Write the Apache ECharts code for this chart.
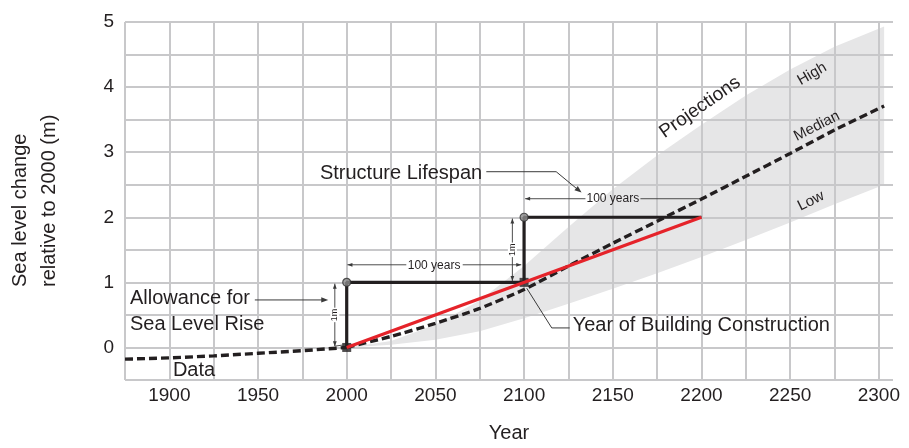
<!DOCTYPE html>
<html>
<head>
<meta charset="utf-8">
<script src="https://cdn.jsdelivr.net/npm/echarts@6/dist/echarts.min.js"></script>
<style>
  html, body { margin: 0; padding: 0; background: #fff; }
  #chart { width: 909px; height: 448px; }
</style>
</head>
<body>
<div id="chart"></div>
<script>
// Observed sea level, relative to 2000 (m)
const histYears = [1875, 1900, 1925, 1950, 1975, 2000];
const histLevel = [-0.18, -0.16, -0.13, -0.09, -0.05, 0];

// Projection envelope and median (m)
const projYears  = [2000, 2025, 2050, 2075, 2100, 2125, 2150, 2175, 2200, 2225, 2250, 2275, 2303];
const projMedian = [0, 0.17, 0.37, 0.6, 0.89, 1.25, 1.6, 1.94, 2.28, 2.63, 2.98, 3.34, 3.71];
const projLow    = [0, 0.04, 0.12, 0.25, 0.45, 0.67, 0.9, 1.14, 1.39, 1.65, 1.92, 2.2, 2.5];
const projHigh   = [0, 0.1, 0.35, 0.72, 1.25, 1.85, 2.43, 2.95, 3.42, 3.87, 4.27, 4.62, 4.93];

// Structure lifespan steps: 1 m allowance, rebuilt every 100 years
const stepYears = [2000, 2000, 2100, 2100, 2200];
const stepLevel = [0, 1, 1, 2, 2];

// Linear allowance through the construction years
const allowYears = [2000, 2200];
const allowLevel = [0, 2];

// Construction points and end-of-lifespan points
const buildYears = [2000, 2100];
const buildLevel = [0, 1];
const endYears = [2000, 2100];
const endLevel = [1, 2];

// Axis ticks
const xLabelYears = [1900, 1950, 2000, 2050, 2100, 2150, 2200, 2250, 2300];
const yLabelValues = [0, 1, 2, 3, 4, 5];

const FONT = "'Liberation Sans', Arial, Helvetica, sans-serif";
const INK = '#231f20';
const GRID = '#c8c8ca';
const RED = '#e5232a';

const pairs = (xs, ys) => xs.map((x, i) => [x, ys[i]]);

const chart = echarts.init(document.getElementById('chart'), null, { renderer: 'canvas' });

chart.setOption({
  animation: false,
  backgroundColor: '#ffffff',
  grid: { left: 125, right: 16, top: 22, bottom: 65 },
  xAxis: {
    type: 'value',
    z: 1,
    min: 1875,
    max: 2308,
    interval: 25,
    name: 'Year',
    nameLocation: 'middle',
    nameGap: 43,
    nameTextStyle: { fontFamily: FONT, fontSize: 20, color: INK },
    axisLine: { show: false },
    axisTick: { show: false },
    axisLabel: {
      margin: 6,
      fontFamily: FONT,
      fontSize: 19,
      color: INK,
      showMaxLabel: false,
      formatter: v => (xLabelYears.indexOf(v) >= 0 ? String(v) : '')
    },
    splitLine: { show: true, showMaxLine: false, lineStyle: { color: GRID, width: 2 } }
  },
  yAxis: {
    type: 'value',
    z: 1,
    min: -0.5,
    max: 5,
    interval: 0.5,
    axisLine: { show: false },
    axisTick: { show: false },
    axisLabel: {
      margin: 11,
      fontFamily: FONT,
      fontSize: 19,
      color: INK,
      formatter: v => (yLabelValues.indexOf(v) >= 0 ? String(v) : '')
    },
    splitLine: { show: true, lineStyle: { color: GRID, width: 2 } }
  },
  series: [
    {
      // projection envelope drawn as a filled polygon from the low and high edges
      name: 'Projections',
      type: 'custom',
      z: 0,
      silent: true,
      data: [0],
      renderItem: (params, api) => {
        const upper = projYears.map((x, i) => api.coord([x, projHigh[i]]));
        const lower = projYears.map((x, i) => api.coord([x, projLow[i]])).reverse();
        return {
          type: 'polygon',
          shape: { points: upper.concat(lower) },
          style: { fill: '#e6e6e7' }
        };
      }
    },
    {
      name: 'Data',
      type: 'line',
      symbol: 'none',
      z: 3,
      lineStyle: { color: INK, width: 3.4, type: [8, 4] },
      data: pairs(histYears, histLevel)
    },
    {
      name: 'Median',
      type: 'line',
      symbol: 'none',
      z: 3,
      smooth: 0.2,
      lineStyle: { color: INK, width: 3.4, type: [8, 4] },
      data: pairs(projYears, projMedian)
    },
    {
      name: 'Structure Lifespan',
      type: 'line',
      symbol: 'none',
      z: 4,
      lineStyle: { color: INK, width: 3.2 },
      data: pairs(stepYears, stepLevel)
    },
    {
      name: 'Construction',
      type: 'scatter',
      z: 5,
      symbol: 'rect',
      symbolSize: 9,
      itemStyle: { color: INK },
      data: pairs(buildYears, buildLevel)
    },
    {
      name: 'Allowance',
      type: 'line',
      symbol: 'none',
      z: 6,
      lineStyle: { color: RED, width: 3.2 },
      data: pairs(allowYears, allowLevel)
    },
    {
      name: 'End of lifespan',
      type: 'scatter',
      z: 7,
      symbol: 'circle',
      symbolSize: 8,
      itemStyle: { color: '#8a8a8a', borderColor: '#333', borderWidth: 1.2 },
      data: pairs(endYears, endLevel)
    }
  ]
});

// ---- annotations, positioned in data coordinates ----
const px = (x, y) => chart.convertToPixel({ gridIndex: 0 }, [x, y]);

function text(str, x, y, size, opts) {
  const p = px(x, y);
  opts = opts || {};
  return {
    type: 'text',
    x: p[0],
    y: p[1],
    rotation: (opts.rotate || 0) * Math.PI / 180,
    z: 20,
    style: {
      text: str,
      x: 0,
      y: 0,
      fill: INK,
      font: size + 'px ' + FONT,
      align: opts.align || 'left',
      verticalAlign: 'middle',
      backgroundColor: opts.bg || null,
      padding: opts.pad || 0
    }
  };
}

function polyline(ptsData, width, color) {
  return {
    type: 'polyline',
    z: 19,
    shape: { points: ptsData.map(d => px(d[0], d[1])) },
    style: { stroke: color || '#3a3a3a', lineWidth: width || 1, fill: null }
  };
}

function head(tipData, fromData, size, color) {
  const t = px(tipData[0], tipData[1]);
  const f = px(fromData[0], fromData[1]);
  const dx = t[0] - f[0], dy = t[1] - f[1];
  const len = Math.hypot(dx, dy) || 1;
  const ux = dx / len, uy = dy / len;
  const bx = t[0] - ux * size, by = t[1] - uy * size;
  const w = size * 0.38;
  return {
    type: 'polygon',
    z: 19,
    shape: { points: [t, [bx - uy * w, by + ux * w], [bx + uy * w, by - ux * w]] },
    style: { fill: color || '#3a3a3a' }
  };
}

const els = [];

// Y axis title (two lines, reading upward)
els.push({
  type: 'text', x: 20, y: 287, rotation: Math.PI / 2, z: 20,
  style: { text: 'Sea level change', x: 0, y: 0, fill: INK, font: '20px ' + FONT, align: 'left', verticalAlign: 'middle' }
});
els.push({
  type: 'text', x: 49, y: 287, rotation: Math.PI / 2, z: 20,
  style: { text: 'relative to 2000 (m)', x: 0, y: 0, fill: INK, font: '20px ' + FONT, align: 'left', verticalAlign: 'middle' }
});

// Labels
els.push(text('Structure Lifespan', 1984.9, 2.68, 20));
els.push(text('Allowance for', 1877.8, 0.745, 20));
els.push(text('Sea Level Rise', 1877.8, 0.35, 20));
els.push(text('Year of Building Construction', 2127.4, 0.335, 20));
els.push(text('Data', 1902, -0.35, 20));
els.push(text('Projections', 2199.2, 3.69, 19, { align: 'center', rotate: 34.8 }));
els.push(text('High', 2262.3, 4.2, 15, { align: 'center', rotate: 30 }));
els.push(text('Median', 2265.1, 3.4, 15, { align: 'center', rotate: 27 }));
els.push(text('Low', 2261.8, 2.25, 15, { align: 'center', rotate: 26.6 }));

// Structure Lifespan leader
els.push(polyline([[2078.7, 2.70], [2118.1, 2.70], [2131.0, 2.41]], 1));
els.push(head([2132.4, 2.38], [2118.1, 2.70], 7));

// 100-year dimension lines
els.push(text('100 years', 2034.4, 1.26, 12));
els.push(polyline([[2000.4, 1.27], [2033.6, 1.27]], 0.9));
els.push(head([2000.4, 1.27], [2010, 1.27], 5));
els.push(polyline([[2065.4, 1.27], [2098.4, 1.27]], 0.9));
els.push(head([2098.4, 1.27], [2090, 1.27], 5));

els.push(text('100 years', 2135.2, 2.28, 12));
els.push(polyline([[2100.6, 2.285], [2134.6, 2.285]], 0.9));
els.push(head([2100.6, 2.285], [2110, 2.285], 5));
els.push(polyline([[2165.6, 2.285], [2199.6, 2.285]], 0.9));

// 1 m dimension lines
els.push(polyline([[1993.3, 0.02], [1993.3, 0.98]], 0.9));
els.push(polyline([[1993.3, 0.02], [1998.6, 0.04]], 0.9));
els.push(head([1993.3, 0.98], [1993.3, 0.8], 5));
els.push(head([1993.3, 0.02], [1993.3, 0.2], 5));
els.push(text('1m', 1993.3, 0.5, 9, { align: 'center', rotate: 90, bg: '#ffffff', pad: [0, 1] }));

els.push(polyline([[2093.4, 1.02], [2093.4, 1.98]], 0.9));
els.push(head([2093.4, 1.98], [2093.4, 1.8], 5));
els.push(head([2093.4, 1.02], [2093.4, 1.2], 5));
els.push(text('1m', 2093.4, 1.5, 9, { align: 'center', rotate: 90, bg: '#ffffff', pad: [0, 1] }));

// Allowance leader
els.push(polyline([[1948.2, 0.73], [1988.0, 0.73]], 1));
els.push(head([1989.6, 0.73], [1980, 0.73], 7));

// Year of Building Construction leader
els.push(polyline([[2101.5, 0.91], [2115.6, 0.30], [2125.7, 0.30]], 1));

chart.setOption({ graphic: els });
</script>
</body>
</html>
